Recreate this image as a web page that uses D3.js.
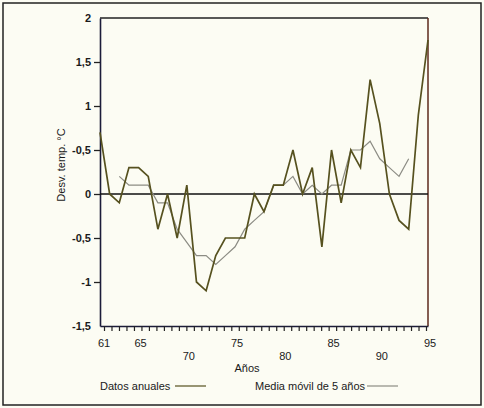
<!DOCTYPE html>
<html>
<head>
<meta charset="utf-8">
<script src="https://cdn.jsdelivr.net/npm/d3@7"></script>
<style>
  body { margin: 0; background: #fcfcf3; }
  svg { display: block; }
  text { font-family: "Liberation Sans", Arial, sans-serif; fill: #1a1a1a; }
</style>
</head>
<body>
<script>
// Desviación de la temperatura anual, 1961-1995
var annualYears = [61, 62, 63, 64, 65, 66, 67, 68, 69, 70, 71, 72, 73, 74, 75, 76, 77, 78,
                   79, 80, 81, 82, 83, 84, 85, 86, 87, 88, 89, 90, 91, 92, 93, 94, 95];
var annualValues = [0.7, 0, -0.1, 0.3, 0.3, 0.2, -0.4, 0, -0.5, 0.1, -1.0, -1.1, -0.7, -0.5,
                    -0.5, -0.5, 0, -0.2, 0.1, 0.1, 0.5, 0, 0.3, -0.6, 0.5, -0.1, 0.5, 0.3,
                    1.3, 0.8, 0, -0.3, -0.4, 0.9, 1.75];

var avgYears = [63, 64, 65, 66, 67, 68, 69, 70, 71, 72, 73, 74, 75, 76, 77, 78, 79, 80,
                81, 82, 83, 84, 85, 86, 87, 88, 89, 90, 91, 92, 93];
var avgValues = [0.2, 0.1, 0.1, 0.1, -0.1, -0.1, -0.4, -0.55, -0.7, -0.7, -0.8, -0.7, -0.6,
                 -0.4, -0.3, -0.2, 0.1, 0.1, 0.2, 0, 0.1, 0, 0.1, 0.1, 0.5, 0.5, 0.6, 0.4,
                 0.3, 0.2, 0.4];

var yTicks = [-1.5, -1, -0.5, 0, 0.5, 1, 1.5, 2];
var yTickLabels = ["-1,5", "-1", "-0,5", "0", "-0,5", "1", "1,5", "2"];
var xUpperTicks = [61, 65, 75, 85, 95];
var xLowerTicks = [70, 80, 90];

var width = 484, height = 408;
var plotLeft = 100, plotRight = 428, plotTop = 18, plotBottom = 326;

var svg = d3.select("body").append("svg")
    .attr("width", width)
    .attr("height", height);

svg.append("rect")
    .attr("x", 3).attr("y", 3)
    .attr("width", 478).attr("height", 402)
    .attr("fill", "#fcfcf3")
    .attr("stroke", "#222")
    .attr("stroke-width", 1.5);

var x = d3.scaleLinear().domain([61, 95]).range([plotLeft, plotRight]);
var y = d3.scaleLinear().domain([-1.5, 2]).range([plotBottom, plotTop]);

// frame of the plot
svg.append("line").attr("x1", plotLeft).attr("x2", plotRight).attr("y1", plotTop).attr("y2", plotTop)
    .attr("stroke", "#222").attr("stroke-width", 1.5);
svg.append("line").attr("x1", plotRight).attr("x2", plotRight).attr("y1", plotTop).attr("y2", plotBottom)
    .attr("stroke", "#5e2a1c").attr("stroke-width", 1.5);

// y axis
var yAxis = svg.append("g")
    .attr("transform", "translate(" + plotLeft + ",0)")
    .call(d3.axisLeft(y).tickValues(yTicks).tickSize(6).tickSizeOuter(0).tickPadding(3)
        .tickFormat(function (d, i) { return yTickLabels[i]; }));
yAxis.select(".domain").attr("stroke", "#1c1c3a").attr("stroke-width", 1.6);
yAxis.selectAll(".tick line").attr("stroke", "#222").attr("stroke-width", 1.3)
    .filter(function (d) { return d === 2 || d === -1.5; }).remove();
yAxis.selectAll(".tick text").attr("font-size", 11).attr("font-weight", "bold").attr("fill", "#1a1a1a");

// x axis with its minor ticks
var minorTicks = d3.range(0, 44).map(function (i) { return x.invert(104 + i * 322 / 43); });
var xAxis = svg.append("g")
    .attr("transform", "translate(0," + plotBottom + ")")
    .call(d3.axisBottom(x).tickValues(minorTicks).tickSize(5).tickSizeOuter(0).tickFormat(""));
xAxis.select(".domain").attr("stroke", "#1c1c3a").attr("stroke-width", 1.6);
xAxis.selectAll(".tick line").attr("stroke", "#222").attr("stroke-width", 1.2);

svg.selectAll(".xup").data(xUpperTicks).enter().append("text")
    .attr("class", "xup")
    .attr("x", function (d) { return x(d) + (d === 61 ? 4 : 2); })
    .attr("y", 347)
    .attr("text-anchor", "middle")
    .attr("font-size", 11)
    .text(function (d) { return d; });

svg.selectAll(".xlow").data(xLowerTicks).enter().append("text")
    .attr("class", "xlow")
    .attr("x", function (d) { return x(d) + 2; })
    .attr("y", 360)
    .attr("text-anchor", "middle")
    .attr("font-size", 11)
    .text(function (d) { return d; });

svg.append("text")
    .attr("x", 247).attr("y", 372)
    .attr("text-anchor", "middle")
    .attr("font-size", 11)
    .text("Años");

svg.append("text")
    .attr("transform", "translate(65,165) rotate(-90)")
    .attr("text-anchor", "middle")
    .attr("font-size", 11)
    .text("Desv. temp. °C");

// zero line
svg.append("line")
    .attr("x1", plotLeft).attr("x2", plotRight)
    .attr("y1", y(0)).attr("y2", y(0))
    .attr("stroke", "#111").attr("stroke-width", 1.6);

var line = d3.line()
    .x(function (d) { return x(d[0]); })
    .y(function (d) { return y(d[1]); });

svg.append("path")
    .datum(d3.zip(avgYears, avgValues))
    .attr("d", line)
    .attr("fill", "none")
    .attr("stroke", "#8c8c84")
    .attr("stroke-width", 1.2);

svg.append("path")
    .datum(d3.zip(annualYears, annualValues))
    .attr("d", line)
    .attr("fill", "none")
    .attr("stroke", "#56511f")
    .attr("stroke-width", 1.7);

// legend
svg.append("text").attr("x", 100).attr("y", 390).attr("font-size", 11).text("Datos anuales");
svg.append("line").attr("x1", 175).attr("x2", 206).attr("y1", 386).attr("y2", 386)
    .attr("stroke", "#56511f").attr("stroke-width", 1.2);
svg.append("text").attr("x", 255).attr("y", 390).attr("font-size", 11).text("Media móvil de 5 años");
svg.append("line").attr("x1", 367).attr("x2", 398).attr("y1", 386).attr("y2", 386)
    .attr("stroke", "#8c8c84").attr("stroke-width", 1.2);
</script>
</body>
</html>
